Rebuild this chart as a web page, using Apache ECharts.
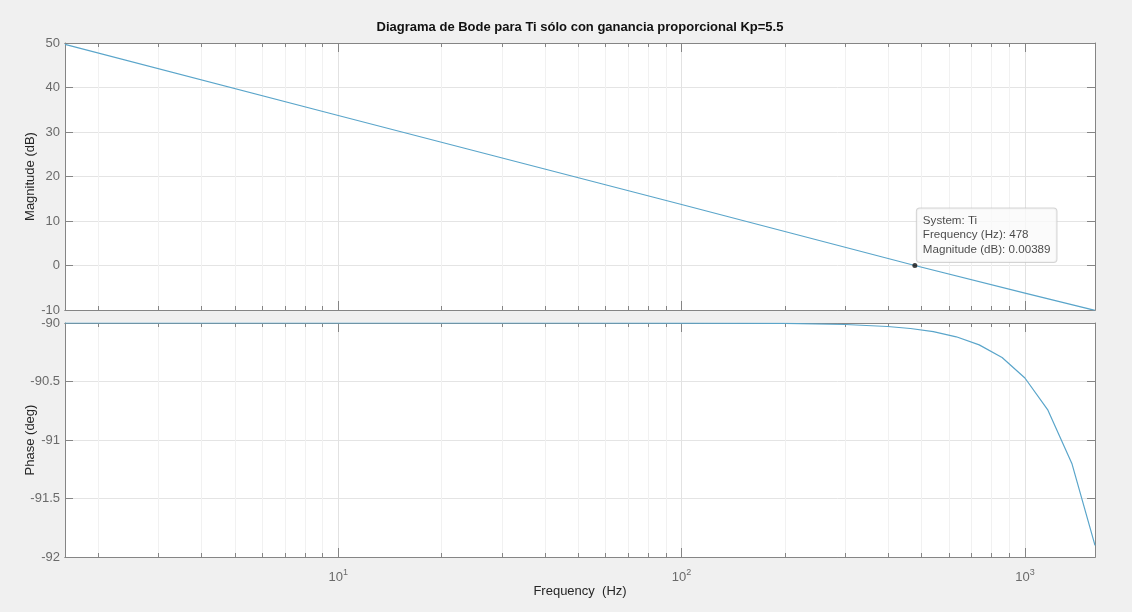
<!DOCTYPE html>
<html>
<head>
<meta charset="utf-8">
<script src="https://cdn.jsdelivr.net/npm/echarts@6/dist/echarts.min.js"></script>
<style>
  html, body { margin: 0; padding: 0; background: #f0f0f0; }
  #chart { width: 1132px; height: 612px; }
</style>
</head>
<body>
<div id="chart"></div>
<script>
// ---- Data ----
const TITLE = 'Diagrama de Bode para Ti sólo con ganancia proporcional Kp=5.5';
const FREQ_RANGE = [1.6, 1600];                       // Hz, x-axis extent
const MAG_FREQ = [1.6, 10, 100, 478, 1000, 1600];     // Hz
const MAG_DB   = [49.7, 33.7, 13.7, 0.00389, -6.2, -10.1];
const PHASE_FREQ = [1.6, 10, 50, 100, 200, 300, 398, 464, 541, 631, 736, 858, 1000, 1167, 1370, 1600];
const PHASE_DEG  = [-90.0, -90.0, -90.0, -90.0005, -90.004, -90.013, -90.03, -90.047, -90.074, -90.118, -90.187, -90.295, -90.47, -90.745, -91.2, -91.9];
const MAJOR_TICKS = [10, 100, 1000];
const MINOR_TICKS = [2,3,4,5,6,7,8,9,20,30,40,50,60,70,80,90,200,300,400,500,600,700,800,900];
const MAG_TICKS = { min: -10, max: 50, interval: 10 };
const PHASE_TICKS = { min: -92, max: -90, interval: 0.5 };
const TIP = { system: 'Ti', freq: 478, mag: 0.00389 };

// ---- Styling ----
const FONT = '"Liberation Sans", Arial, Helvetica, sans-serif';
const LINE_COLOR = '#5aa5ca';
const AXIS_COLOR = '#858585';
const LABEL_COLOR = '#6a6a6a';
const lg = v => Math.log10(v);
const XMIN = lg(FREQ_RANGE[0]), XMAX = lg(FREQ_RANGE[1]);

const grids = [
  { left: 65, right: 37, top: 43, height: 267 },
  { left: 65, right: 37, top: 323, height: 234 }
];

function xAxes(gridIndex, withLabels) {
  const base = {
    type: 'value', gridIndex, min: XMIN, max: XMAX,
    axisLine: { show: true, onZero: false, lineStyle: { color: AXIS_COLOR, width: 1 } }
  };
  const minorBottom = Object.assign({}, base, {
    position: 'bottom',
    axisTick: { show: true, inside: true, length: 4, customValues: MINOR_TICKS.map(lg), lineStyle: { color: AXIS_COLOR } },
    axisLabel: { show: false },
    splitLine: { show: true, lineStyle: { color: '#f1f1f1', width: 1 } }
  });
  const majorBottom = Object.assign({}, base, {
    position: 'bottom',
    axisTick: { show: true, inside: true, length: 9, customValues: MAJOR_TICKS.map(lg), lineStyle: { color: AXIS_COLOR } },
    axisLabel: withLabels ? {
      show: true, customValues: MAJOR_TICKS.map(lg), margin: 11,
      formatter: v => '{b|10}{s|' + Math.round(v) + '}',
      rich: {
        b: { fontFamily: FONT, fontSize: 13, color: LABEL_COLOR, verticalAlign: 'bottom', lineHeight: 16 },
        s: { fontFamily: FONT, fontSize: 9, color: LABEL_COLOR, verticalAlign: 'top', lineHeight: 16 }
      }
    } : { show: false },
    splitLine: { show: true, lineStyle: { color: '#e2e2e2', width: 1 } },
    name: withLabels ? 'Frequency  (Hz)' : '',
    nameLocation: 'middle', nameGap: 28, nameMoveOverlap: false,
    nameTextStyle: { fontFamily: FONT, fontSize: 13, color: '#262626' }
  });
  const minorTop = Object.assign({}, base, {
    position: 'top',
    axisTick: { show: true, inside: true, length: 4, customValues: MINOR_TICKS.map(lg), lineStyle: { color: AXIS_COLOR } },
    axisLabel: { show: false }, splitLine: { show: false }
  });
  const majorTop = Object.assign({}, base, {
    position: 'top',
    axisTick: { show: true, inside: true, length: 9, customValues: MAJOR_TICKS.map(lg), lineStyle: { color: AXIS_COLOR } },
    axisLabel: { show: false }, splitLine: { show: false }
  });
  return [minorBottom, majorBottom, minorTop, majorTop];
}

function yAxes(gridIndex, ticks, name, nameGap) {
  const base = {
    type: 'value', gridIndex, min: ticks.min, max: ticks.max, interval: ticks.interval,
    axisLine: { show: true, onZero: false, lineStyle: { color: AXIS_COLOR, width: 1 } },
    axisTick: { show: true, inside: true, length: 8, lineStyle: { color: AXIS_COLOR } }
  };
  return [
    Object.assign({}, base, {
      position: 'left',
      axisLabel: { show: true, margin: 5, fontFamily: FONT, fontSize: 13, color: LABEL_COLOR },
      splitLine: { show: true, lineStyle: { color: '#e4e4e4', width: 1 } },
      name, nameLocation: 'middle', nameGap, nameMoveOverlap: false,
      nameTextStyle: { fontFamily: FONT, fontSize: 13, color: '#262626' }
    }),
    Object.assign({}, base, {
      position: 'right', axisLabel: { show: false }, splitLine: { show: false }
    })
  ];
}

const option = {
  backgroundColor: '#f0f0f0',
  animation: false,
  graphic: [{
    type: 'text', x: 580, y: 21,
    style: { text: TITLE, fontFamily: FONT, fontSize: 13, fontWeight: 'bold', fill: '#111', align: 'center', verticalAlign: 'top' }
  }],
  grid: grids.map(g => Object.assign({ show: true, backgroundColor: '#ffffff', borderWidth: 0 }, g)),
  xAxis: [].concat(xAxes(0, false), xAxes(1, true)),
  yAxis: [].concat(yAxes(0, MAG_TICKS, 'Magnitude (dB)', 28), yAxes(1, PHASE_TICKS, 'Phase (deg)', 28)),
  series: [
    {
      type: 'line', name: 'mag', xAxisIndex: 0, yAxisIndex: 0,
      data: MAG_FREQ.map((f, i) => [lg(f), MAG_DB[i]]),
      showSymbol: false, symbol: 'none', clip: true,
      lineStyle: { color: LINE_COLOR, width: 1.2 }
    },
    {
      type: 'line', name: 'phase', xAxisIndex: 4, yAxisIndex: 2,
      data: PHASE_FREQ.map((f, i) => [lg(f), PHASE_DEG[i]]),
      showSymbol: false, symbol: 'none', clip: true,
      lineStyle: { color: LINE_COLOR, width: 1.2 }
    },
    {
      type: 'scatter', name: 'tip', xAxisIndex: 0, yAxisIndex: 0, z: 10,
      data: [[lg(TIP.freq), TIP.mag]],
      symbol: 'circle', symbolSize: 5,
      itemStyle: { color: '#111' },
      label: {
        show: true, position: [4.5, -54.5],
        formatter: () => 'System: ' + TIP.system + '\nFrequency (Hz): ' + TIP.freq + '\nMagnitude (dB): ' + TIP.mag,
        fontFamily: FONT, fontSize: 11.6, color: '#1a1a1a', lineHeight: 14.5,
        backgroundColor: '#fafafa', borderColor: '#c9c9c9', borderWidth: 1, borderRadius: 3,
        padding: [5, 6, 5, 6]
      }
    }
  ]
};

const chart = echarts.init(document.getElementById('chart'), null, { renderer: 'canvas' });
chart.setOption(option);
</script>
</body>
</html>
